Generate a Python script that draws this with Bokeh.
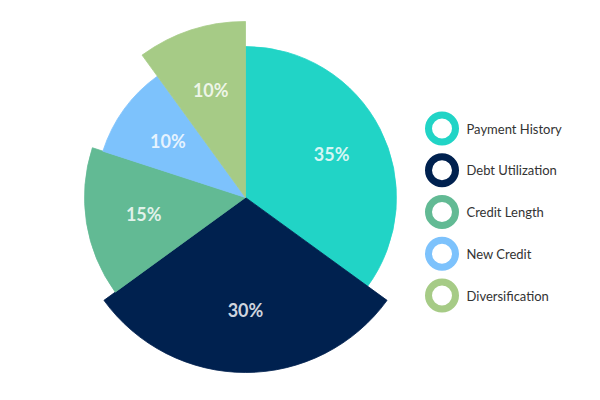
import math
from bokeh.plotting import figure
from bokeh.models import ColumnDataSource, Range1d
from bokeh.core.properties import value
from bokeh.embed import file_html
from bokeh.resources import INLINE

# ---- data ----
categories = ["Payment History", "Debt Utilization", "Credit Length", "New Credit", "Diversification"]
shares = [35, 30, 15, 10, 10]
slice_radius = [151, 175, 161, 150, 176]
colors = ["#21D4C6", "#00214F", "#62BA94", "#7DC2FC", "#A6CB86"]

W, H = 584, 384
cx, cy = 245, 187
label_frac = 0.64

starts, ends, lx, ly, labels = [], [], [], [], []
a = math.pi / 2
total = float(sum(shares))
for s, r in zip(shares, slice_radius):
    da = s / total * 2 * math.pi
    b = a - da
    starts.append(b)
    ends.append(a)
    mid = (a + b) / 2
    lx.append(cx + label_frac * r * math.cos(mid))
    ly.append(cy + label_frac * r * math.sin(mid))
    labels.append(f"{s}%")
    a = b

src = ColumnDataSource(dict(
    x=[cx] * len(shares), y=[cy] * len(shares), r=slice_radius,
    start=starts, end=ends, color=colors, lx=lx, ly=ly, label=labels,
))

p = figure(width=W, height=H, x_range=Range1d(0, W), y_range=Range1d(0, H),
           x_axis_type=None, y_axis_type=None, output_backend="svg",
           toolbar_location=None, min_border=0)
p.grid.visible = False
p.outline_line_color = None
p.background_fill_color = "white"
p.border_fill_color = "white"

p.wedge(x="x", y="y", radius="r", start_angle="start", end_angle="end",
        direction="anticlock", fill_color="color", line_color="color",
        line_width=0.8, source=src)

p.text(x="lx", y="ly", text="label", source=src, text_align="center",
       text_baseline="middle", text_color="white", text_alpha=0.82,
       text_font=value("Lato"), text_font_style="bold", text_font_size="18px")

# ---- legend (ring markers) ----
leg_x = 441.5
leg_y0 = 256
leg_dy = 41.75
leg_src = ColumnDataSource(dict(
    x=[leg_x] * len(categories),
    y=[leg_y0 - i * leg_dy for i in range(len(categories))],
    tx=[leg_x + 24.5] * len(categories),
    color=colors, name=categories,
))
p.scatter(x="x", y="y", marker="circle", size=27, fill_color="white",
          line_color="color", line_width=7, source=leg_src)
p.text(x="tx", y="y", text="name", source=leg_src, text_align="left",
       text_baseline="middle", text_color="#333333",
       text_font=value("Lato"), text_font_size="13px")

open("out.html", "w").write(file_html(p, INLINE))
